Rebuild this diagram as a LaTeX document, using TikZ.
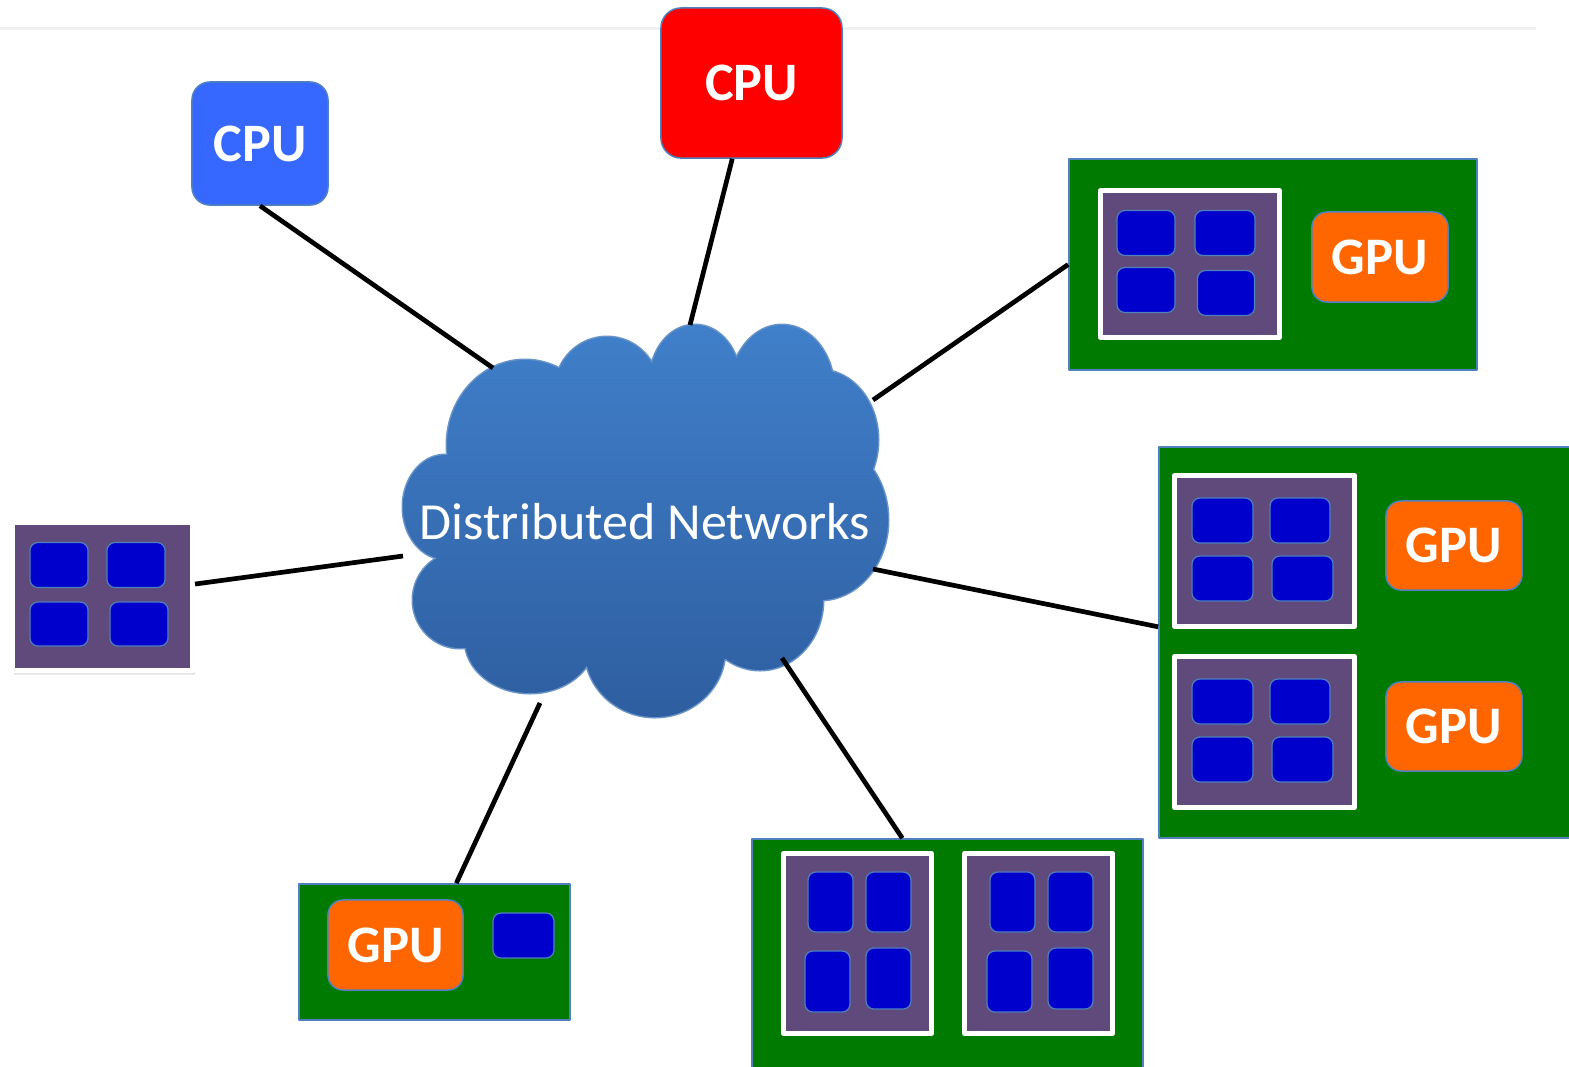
\documentclass[tikz,border=0pt]{standalone}
\usepackage{fontspec}
\setmainfont{Carlito}
\usetikzlibrary{calc,shadows}

\definecolor{cpublue}{RGB}{54,104,255}
\definecolor{cpured}{RGB}{255,0,0}
\definecolor{gpuorange}{RGB}{255,102,0}
\definecolor{boardgreen}{RGB}{0,122,0}
\definecolor{chippurple}{RGB}{96,74,123}
\definecolor{coreblue}{RGB}{0,0,204}
\definecolor{rimblue}{RGB}{79,129,189}
\definecolor{cloudtop}{RGB}{64,127,202}
\definecolor{cloudbot}{RGB}{46,94,160}

\newcommand{\netpuffs}{%
	(445,507) ellipse (42 and 52)
	(460,600) ellipse (47 and 48)
	(530,640) ellipse (65 and 53)
	(655,650) ellipse (70 and 67)
	(760,600) ellipse (63 and 70)
	(820,520) ellipse (68 and 80)
	(820,440) ellipse (58 and 70)
	(782,390) ellipse (52 and 65)
	(695,380) ellipse (45 and 55)
	(607,390) ellipse (52 and 53)
	(525,445) ellipse (78 and 85)
	(650,520) ellipse (200 and 150)}

\tikzset{
	link/.style={draw=black,line width=0.047cm},
	board/.style={fill=boardgreen,draw=rimblue,line width=0.015cm,inner sep=0pt},
	chip/.style={fill=chippurple,draw=white,line width=0.05cm,inner sep=0pt},
	core/.style={fill=coreblue,draw=rimblue,line width=0.012cm,rounded corners=0.08cm,
		inner sep=0pt,minimum width=0.58cm,minimum height=0.45cm},
	coretall/.style={core,minimum width=0.45cm,minimum height=0.60cm},
	gpu/.style={fill=gpuorange,draw=rimblue,line width=0.015cm,rounded corners=0.15cm,
		text=white,font=\fontsize{15pt}{18pt}\selectfont\bfseries,
		minimum width=1.36cm,minimum height=0.9cm,inner sep=0pt},
	cpu/.style={draw=rimblue,line width=0.015cm,rounded corners=0.18cm,
		text=white,font=\fontsize{15.4pt}{18pt}\selectfont\bfseries,inner sep=0pt}
}

\begin{document}
\begin{tikzpicture}[x=0.01cm,y=-0.01cm,line join=round]
	\useasboundingbox (0,0) rectangle (1569,1066);
	\draw[gray!12,line width=0.03cm] (0,28) -- (1536,28);

	% cloud
	\path[draw=rimblue!85!white,line width=0.03cm] \netpuffs;
	\path[top color=cloudtop,bottom color=cloudbot] \netpuffs;
	\node[text=white,font=\fontsize{14.8pt}{18pt}\selectfont] (net) at (645,522) {Distributed Networks};
	\coordinate (net-nw) at (493,368);
	\coordinate (net-n) at (690,325);
	\coordinate (net-ne) at (873,400);
	\coordinate (net-w) at (403,556);
	\coordinate (net-e) at (873,569);
	\coordinate (net-se) at (782,658);
	\coordinate (net-sw) at (540,703);

	% cpus
	\node[cpu,fill=cpublue,minimum width=1.36cm,minimum height=1.23cm] (cpuB) at (260,143.5) {CPU};
	\node[cpu,fill=cpured,minimum width=1.81cm,minimum height=1.50cm,rounded corners=0.2cm] (cpuR) at (751.5,83) {CPU};

	% board top right
	\node[board,minimum width=4.08cm,minimum height=2.11cm] (gA) at (1273,264.5) {};
	\node[chip,minimum width=1.79cm,minimum height=1.47cm] (chipA) at (1190,264) {};
	\node[core] (a1) at (1146,233) {};
	\node[core,minimum width=0.60cm] (a2) at (1225,233) {};
	\node[core] (a3) at (1146,290) {};
	\node[core,minimum width=0.57cm] (a4) at (1226,293) {};
	\node[gpu] (gpuA) at (1380,257) {GPU};

	% chip left
	\node[chip,minimum width=1.80cm,minimum height=1.48cm,
		drop shadow={opacity=0.18,shadow xshift=0.02cm,shadow yshift=-0.04cm}] (chipL) at (102.5,596.5) {};
	\node[core] (l1) at (59,565) {};
	\node[core] (l2) at (136,565) {};
	\node[core,minimum height=0.44cm] (l3) at (59,624) {};
	\node[core,minimum height=0.44cm] (l4) at (139,624) {};

	% board bottom left
	\node[board,minimum width=2.71cm,minimum height=1.36cm] (gBL) at (434.5,952) {};
	\node[gpu,minimum width=1.35cm] (gpuBL) at (395.5,945) {GPU};
	\node[core,minimum width=0.61cm] (bl1) at (523.5,935.5) {};

	% board bottom middle
	\node[board,minimum width=3.91cm,minimum height=2.31cm] (gBM) at (947.5,954.5) {};
	\node[chip,minimum width=1.48cm,minimum height=1.80cm] (chipM1) at (857.5,943.5) {};
	\node[chip,minimum width=1.48cm,minimum height=1.80cm] (chipM2) at (1038.5,943.5) {};
	\node[coretall] (m1) at (830.5,902) {};
	\node[coretall] (m2) at (888.5,902) {};
	\node[coretall,minimum height=0.61cm] (m3) at (827.5,981.5) {};
	\node[coretall,minimum height=0.61cm] (m4) at (888.5,978.5) {};
	\node[coretall] (m5) at (1012.5,902) {};
	\node[coretall] (m6) at (1070.5,902) {};
	\node[coretall,minimum height=0.61cm] (m7) at (1009.5,981.5) {};
	\node[coretall,minimum height=0.61cm] (m8) at (1070.5,978.5) {};

	% board right
	\node[board,minimum width=4.13cm,minimum height=3.91cm] (gR) at (1365.5,642.5) {};
	\node[chip,minimum width=1.80cm,minimum height=1.51cm] (chipR1) at (1264.5,551) {};
	\node[core,minimum width=0.61cm] (r1) at (1222.5,520.5) {};
	\node[core,minimum width=0.60cm] (r2) at (1300,520.5) {};
	\node[core,minimum width=0.61cm] (r3) at (1222.5,578.5) {};
	\node[core,minimum width=0.61cm] (r4) at (1302.5,578.5) {};
	\node[gpu,minimum height=0.89cm] (gpuR1) at (1454,545.5) {GPU};
	\node[chip,minimum width=1.80cm,minimum height=1.51cm] (chipR2) at (1264.5,732) {};
	\node[core,minimum width=0.61cm] (r5) at (1222.5,701.5) {};
	\node[core,minimum width=0.60cm] (r6) at (1300,701.5) {};
	\node[core,minimum width=0.61cm] (r7) at (1222.5,759.5) {};
	\node[core,minimum width=0.61cm] (r8) at (1302.5,759.5) {};
	\node[gpu,minimum height=0.89cm] (gpuR2) at (1454,726.5) {GPU};

	% links
	\draw[link] (cpuB.south) -- (net-nw);
	\draw[link] (cpuR) -- (net-n);
	\draw[link] (gA.west) -- (net-ne);
	\draw[link] (chipL) -- (net-w);
	\draw[link] ($(gR.north west)!0.46!(gR.south west)$) -- (net-e);
	\draw[link] ($(gBM.north west)!0.385!(gBM.north east)$) -- (net-se);
	\draw[link] ($(gBL.north west)!0.58!(gBL.north east)$) -- (net-sw);
\end{tikzpicture}
\end{document}
